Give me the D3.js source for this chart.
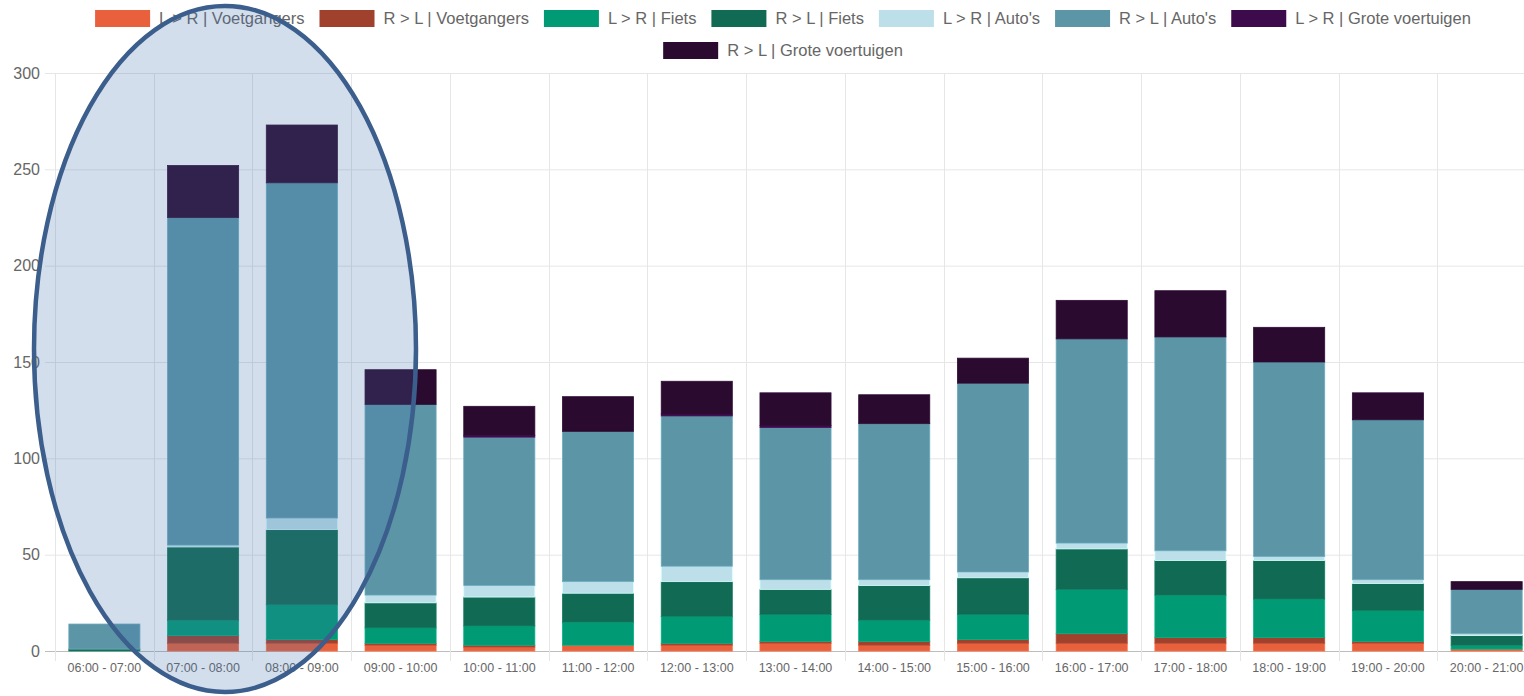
<!DOCTYPE html>
<html lang="nl">
<head>
<meta charset="utf-8">
<title>Verkeerstelling per uur</title>
<script src="https://cdn.jsdelivr.net/npm/d3@7/dist/d3.min.js"></script>
<style>
  body { margin: 0; background: #fff; }
  svg { display: block; font-family: "Liberation Sans", Arial, sans-serif; }
</style>
</head>
<body>
<script>
// categories (uurblokken)
var categories = ["06:00 - 07:00", "07:00 - 08:00", "08:00 - 09:00", "09:00 - 10:00",
  "10:00 - 11:00", "11:00 - 12:00", "12:00 - 13:00", "13:00 - 14:00", "14:00 - 15:00",
  "15:00 - 16:00", "16:00 - 17:00", "17:00 - 18:00", "18:00 - 19:00", "19:00 - 20:00",
  "20:00 - 21:00"];

// series, stacked bottom to top
var voetLR  = [0, 4, 4, 3, 2, 3, 3, 4, 3, 4, 4, 4, 4, 4, 1];
var voetRL  = [0, 4, 2, 1, 1, 0, 1, 1, 2, 2, 5, 3, 3, 1, 0];
var fietsLR = [0, 8, 18, 8, 10, 12, 14, 14, 11, 13, 23, 22, 20, 16, 2];
var fietsRL = [1, 38, 39, 13, 15, 15, 18, 13, 18, 19, 21, 18, 20, 14, 5];
var autoLR  = [0, 1, 6, 4, 6, 6, 8, 5, 3, 3, 3, 5, 2, 2, 1];
var autoRL  = [13, 170, 174, 99, 77, 78, 78, 79, 81, 98, 106, 111, 101, 83, 23];
var groteLR = [0, 0, 0, 0, 1, 0, 1, 1, 0, 0, 0, 0, 0, 0, 0];
var groteRL = [0, 27, 30, 18, 15, 18, 17, 17, 15, 13, 20, 24, 18, 14, 4];

var seriesNames = ["L > R | Voetgangers", "R > L | Voetgangers", "L > R | Fiets", "R > L | Fiets",
  "L > R | Auto's", "R > L | Auto's", "L > R | Grote voertuigen", "R > L | Grote voertuigen"];
var seriesColors = ["#e8603c", "#a0412d", "#009a74", "#116a53", "#bcdfe9", "#5b95a6", "#3d0a4b", "#2a0a2f"];
var seriesValues = [voetLR, voetRL, fietsLR, fietsRL, autoLR, autoRL, groteLR, groteRL];

var yTicks = [0, 50, 100, 150, 200, 250, 300];

var W = 1524, H = 696;
var plot = {left: 55, right: 1536, top: 73, bottom: 651};

var svg = d3.select("body").append("svg")
  .attr("width", W)
  .attr("height", H);

var rows = categories.map(function(c, i) {
  var r = {cat: c};
  seriesNames.forEach(function(n, k) { r[n] = seriesValues[k][i]; });
  return r;
});
var stacked = d3.stack().keys(seriesNames)(rows);

var x = d3.scaleBand()
  .domain(categories)
  .range([plot.left, plot.right])
  .padding(0);

var y = d3.scaleLinear()
  .domain([0, 300])
  .range([plot.bottom, plot.top]);

var grid = svg.append("g");

// horizontal grid
grid.selectAll("line.h")
  .data(yTicks)
  .enter().append("line")
  .attr("x1", plot.left - 10)
  .attr("x2", W)
  .attr("y1", function(d) { return y(d) + 0.5; })
  .attr("y2", function(d) { return y(d) + 0.5; })
  .attr("stroke", function(d) { return d === 0 ? "#bdbdbd" : "#e6e6e6"; })
  .attr("stroke-width", 1);

// vertical grid at band edges
var edges = categories.map(function(c) { return x(c); });
grid.selectAll("line.v")
  .data(edges)
  .enter().append("line")
  .attr("x1", function(d) { return Math.round(d) + 0.5; })
  .attr("x2", function(d) { return Math.round(d) + 0.5; })
  .attr("y1", plot.top)
  .attr("y2", plot.bottom + 10)
  .attr("stroke", "#e6e6e6")
  .attr("stroke-width", 1);

// y labels
svg.append("g").selectAll("text")
  .data(yTicks)
  .enter().append("text")
  .attr("x", 40)
  .attr("y", function(d) { return y(d); })
  .attr("dy", "0.35em")
  .attr("text-anchor", "end")
  .attr("fill", "#666")
  .attr("font-size", 16)
  .text(function(d) { return d; });

// x labels
svg.append("g").selectAll("text")
  .data(categories)
  .enter().append("text")
  .attr("x", function(d) { return x(d) + x.bandwidth() / 2; })
  .attr("y", 668)
  .attr("dy", "0.35em")
  .attr("text-anchor", "middle")
  .attr("fill", "#666")
  .attr("font-size", 12.5)
  .text(function(d) { return d; });

// bars
var barW = x.bandwidth() * 0.72;
svg.append("g").selectAll("g")
  .data(stacked)
  .enter().append("g")
  .attr("fill", function(d, i) { return seriesColors[i]; })
  .attr("stroke", function(d, i) { return d3.color(seriesColors[i]).brighter(0.4); })
  .attr("stroke-width", 0.8)
  .selectAll("rect")
  .data(function(d) { return d; })
  .enter().append("rect")
  .attr("x", function(d) { return x(d.data.cat) + (x.bandwidth() - barW) / 2; })
  .attr("width", barW)
  .attr("y", function(d) { return y(d[1]); })
  .attr("height", function(d) { return y(d[0]) - y(d[1]); })
  .attr("display", function(d) { return d[1] - d[0] > 0 ? null : "none"; });

// legend
var legend = svg.append("g");
var boxW = 55, boxH = 17, gapText = 9, gapItem = 15, legendCenter = 783, maxRow = 1440;
var items = legend.selectAll("g")
  .data(seriesNames)
  .enter().append("g");
items.append("rect")
  .attr("width", boxW)
  .attr("height", boxH)
  .attr("fill", function(d, i) { return seriesColors[i]; });
items.append("text")
  .attr("x", boxW + gapText)
  .attr("y", boxH / 2)
  .attr("dy", "0.35em")
  .attr("fill", "#666")
  .attr("font-size", 16.5)
  .text(function(d) { return d; });

var legendRows = [[]], rowW = [0];
items.each(function(d, i) {
  var w = boxW + gapText + this.querySelector("text").getComputedTextLength();
  var r = legendRows.length - 1;
  var add = (legendRows[r].length ? gapItem : 0) + w;
  if (rowW[r] + add > maxRow && legendRows[r].length) {
    legendRows.push([]); rowW.push(0); r++; add = w;
  }
  legendRows[r].push({node: this, w: w});
  rowW[r] += add;
});
legendRows.forEach(function(row, r) {
  var cx = legendCenter - rowW[r] / 2;
  row.forEach(function(it) {
    d3.select(it.node).attr("transform", "translate(" + cx + "," + (10 + r * 32) + ")");
    cx += it.w + gapItem;
  });
});

// annotation ellipse over the morning peak
svg.append("ellipse")
  .attr("cx", 225)
  .attr("cy", 349)
  .attr("rx", 191)
  .attr("ry", 343)
  .attr("fill", "rgb(68,115,174)")
  .attr("fill-opacity", 0.235)
  .attr("stroke", "#3b5e8c")
  .attr("stroke-width", 4.5);
</script>
</body>
</html>
